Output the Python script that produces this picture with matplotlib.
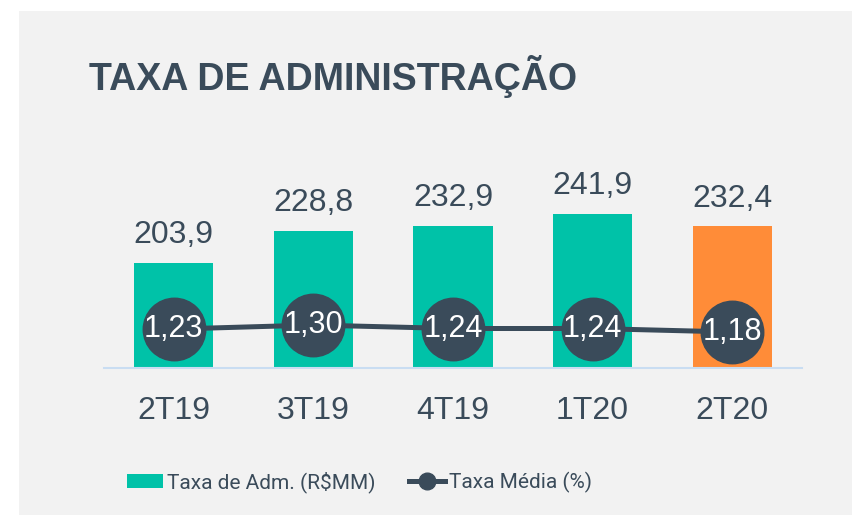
import matplotlib
matplotlib.use("Agg")
import matplotlib.pyplot as plt
from matplotlib.patches import Rectangle, Patch
from matplotlib.lines import Line2D

categories = ["2T19", "3T19", "4T19", "1T20", "2T20"]
fees = [203.9, 228.8, 232.9, 241.9, 232.4]
rates = [1.23, 1.30, 1.24, 1.24, 1.18]
fee_labels = ["203,9", "228,8", "232,9", "241,9", "232,4"]
rate_labels = ["1,23", "1,30", "1,24", "1,24", "1,18"]
title = "TAXA DE ADMINISTRAÇÃO"
legend_labels = ["Taxa de Adm. (R$MM)", "Taxa Média (%)"]

TEAL = "#00C2A8"
ORANGE = "#FF8C38"
DARK = "#3A4B5A"
BG = "#F2F2F2"
AXIS = "#C9DDF2"

plt.rcParams["font.family"] = ["Liberation Sans", "DejaVu Sans"]

W, H = 854, 515
fig = plt.figure(figsize=(W / 100, H / 100), dpi=100)
fig.patch.set_facecolor("white")
fig.add_artist(Rectangle((19 / W, 0), (852 - 19) / W, (515 - 11) / H,
                         transform=fig.transFigure, facecolor=BG,
                         edgecolor="none", zorder=0))

left, right = 104, 802
base, top = 368, 100
ax = fig.add_axes([left / W, (H - base) / H, (right - left) / W, (base - top) / H])
ax.set_facecolor("none")
x = list(range(len(categories)))
colors = [TEAL] * (len(categories) - 1) + [ORANGE]
ax.bar(x, fees, width=0.566, color=colors, zorder=2, bottom=0)
ax.set_xlim(-0.5, 4.5)
ax.set_ylim(122.5, 330.2)
for xi, v, lab in zip(x, fees, fee_labels):
    ax.annotate(lab, (xi, v), xytext=(0, 9), textcoords="offset points",
                ha="center", va="bottom", fontsize=23, color=DARK)
for s in ["top", "right", "left"]:
    ax.spines[s].set_visible(False)
ax.spines["bottom"].set_color(AXIS)
ax.spines["bottom"].set_linewidth(1.5)
ax.set_yticks([])
ax.set_xticks(x)
ax.set_xticklabels(categories, fontsize=23, color=DARK)
ax.tick_params(axis="x", length=0, pad=20)

ax2 = ax.twinx()
ax2.set_ylim(0.559, 5.18)
ax2.set_axis_off()
ax2.plot(x, rates, color=DARK, lw=3.6, marker="o", markersize=45,
         markerfacecolor=DARK, markeredgecolor=DARK, zorder=3)
for xi, v, lab in zip(x, rates, rate_labels):
    ax2.text(xi, v, lab, ha="center", va="center", fontsize=22,
             color="white", zorder=4)

fig.text(89 / W, 1 - 77 / H, title, fontsize=27, fontweight="bold",
         color=DARK, ha="left", va="center")

handles = [Patch(facecolor=TEAL, edgecolor="none"),
           Line2D([0], [0], color=DARK, lw=3.6, marker="o", markersize=12)]
leg = fig.legend(handles, legend_labels, loc="center left",
                 bbox_to_anchor=(127 / W, 1 - 482 / H), ncol=2,
                 frameon=False, borderpad=0, borderaxespad=0, handleheight=0.7,
                 prop={"family": ["Roboto", "Liberation Sans"], "size": 15},
                 handlelength=1.73, handletextpad=0.19, columnspacing=1.6,
                 labelcolor=DARK)

fig.savefig("out.png", dpi=100, facecolor="white")
